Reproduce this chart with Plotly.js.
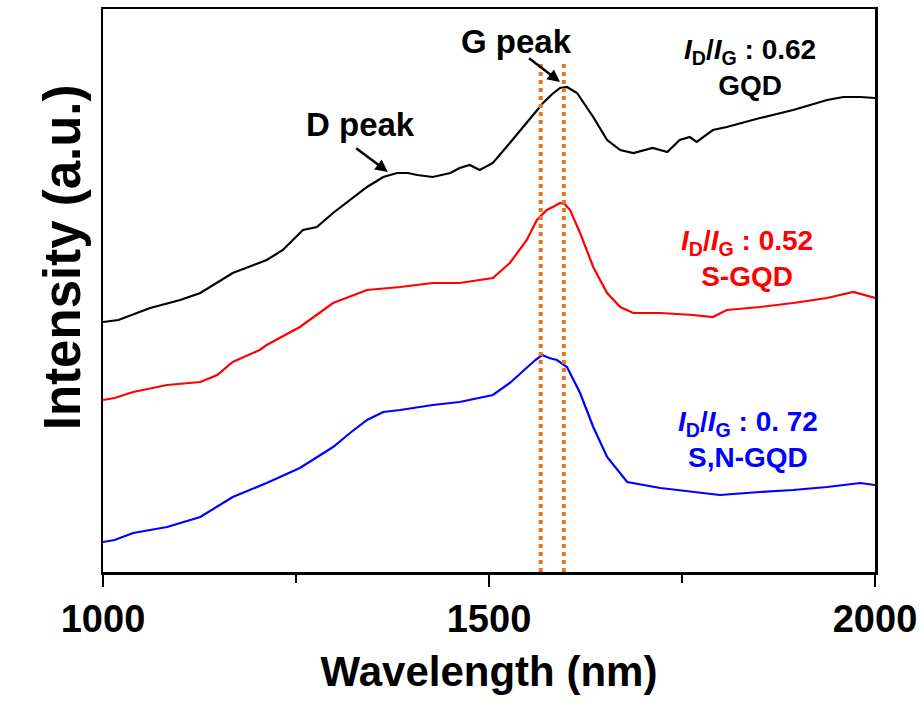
<!DOCTYPE html>
<html>
<head>
<meta charset="utf-8">
<script src="https://cdn.plot.ly/plotly-3.0.1.min.js"></script>
<style>html,body{margin:0;padding:0;background:#fff;}#chart{width:924px;height:708px;}</style>
</head>
<body>
<div id="chart"></div>
<script>
// ---- data (spectra, arbitrary intensity units, offset for display) ----
const wlGQD = [1000,1020,1061,1100,1126,1168,1212,1233,1259,1277,1298,1320,1342,1363,1381,1395,1407,1427,1450,1462,1475,1488,1505,1527,1549,1570,1582,1592,1601,1614,1635,1653,1670,1687,1712,1731,1747,1760,1769,1790,1808,1851,1894,1938,1959,1981,2000];
const intGQD = [250,252,264,272,279,299,312,322,342,345,359,372,385,395,399,399,397,395,399,404,407,402,409,429,449,469,478,484,485,479,455,432,422,419,424,420,432,435,430,442,445,454,462,472,475,475,474];

const wlSGQD = [1000,1015,1039,1083,1126,1148,1168,1203,1212,1255,1298,1342,1385,1427,1462,1505,1527,1549,1562,1575,1585,1592,1598,1605,1618,1635,1653,1670,1687,1722,1764,1790,1808,1851,1894,1938,1972,2000];
const intSGQD = [172,174,180,187,190,197,210,222,227,245,269,282,285,289,289,294,309,332,352,362,366,369,368,362,339,305,279,265,259,259,257,255,262,265,269,274,280,274];

const wlSNGQD = [1000,1015,1039,1083,1126,1168,1212,1255,1298,1320,1342,1363,1385,1427,1462,1505,1527,1549,1560,1569,1578,1588,1601,1618,1635,1653,1679,1722,1764,1799,1851,1894,1938,1981,2000];
const intSNGQD = [30,32,39,45,55,75,89,104,125,139,152,160,162,167,170,177,189,204,212,217,214,212,205,179,145,115,90,84,80,77,80,82,85,89,87];

const seriesNames = ["GQD", "S-GQD", "S,N-GQD"];
const ratioValues = ["0.62", "0.52", "0. 72"];
const gPeakPositions = [1567, 1597];
const guideSpan = [0, 512];
const xTickValues = [1000, 1500, 2000];
const xTickLabels = ["1000", "1500", "2000"];

// ---- styles ----
const colors = ["#000000", "#ff0000", "#0000ff"];
const FONT = "Liberation Sans, Arial, Helvetica, sans-serif";

const traces = [];
const xs = [wlGQD, wlSGQD, wlSNGQD];
const ys = [intGQD, intSGQD, intSNGQD];
for (let i = 0; i < 3; i++) {
  traces.push({
    x: xs[i], y: ys[i], type: "scatter", mode: "lines", name: seriesNames[i],
    line: {color: colors[i], width: 2.2},
    hoverinfo: "skip"
  });
}
gPeakPositions.forEach(p => {
  traces.push({
    x: [p, p], y: guideSpan, type: "scatter", mode: "lines",
    line: {color: "#e8761f", width: 4, dash: "4px,4px"},
    hoverinfo: "skip", showlegend: false
  });
});

const ratioText = v => "<i>I</i><sub>D</sub>/<i>I</i><sub>G</sub> : " + v;
const labelPos = [
  {x: 1838, y: 505},
  {x: 1834, y: 314},
  {x: 1836, y: 133}
];
const annotations = [];
for (let i = 0; i < 3; i++) {
  annotations.push({xref: "x", yref: "y", x: labelPos[i].x, y: labelPos[i].y,
    text: ratioText(ratioValues[i]) + "<br>" + seriesNames[i],
    showarrow: false, font: {family: FONT, size: 28, weight: "bold", color: colors[i]}});
}
// peak labels
annotations.push({xref: "x", yref: "y", x: 1334, y: 448, text: "D peak", showarrow: false,
  font: {family: FONT, size: 33, weight: "bold", color: "#000"}});
annotations.push({xref: "x", yref: "y", x: 1369, y: 400, axref: "x", ayref: "y", ax: 1326, ay: 425, text: "",
  showarrow: true, arrowhead: 2, arrowsize: 1, arrowwidth: 2.5, arrowcolor: "#000"});
annotations.push({xref: "x", yref: "y", x: 1536, y: 531, text: "G peak", showarrow: false,
  font: {family: FONT, size: 33, weight: "bold", color: "#000"}});
annotations.push({xref: "x", yref: "y", x: 1592, y: 490, axref: "x", ayref: "y", ax: 1550, ay: 515, text: "",
  showarrow: true, arrowhead: 2, arrowsize: 1, arrowwidth: 2.5, arrowcolor: "#000"});
// y axis title
annotations.push({xref: "paper", yref: "paper", x: -0.092, y: 0.56, text: "Intensity (a.u.)", textangle: -90,
  showarrow: false, font: {family: FONT, size: 51, weight: "bold", color: "#000"}});

const layout = {
  width: 924, height: 708,
  margin: {l: 103, r: 49, t: 9, b: 136},
  paper_bgcolor: "#fff", plot_bgcolor: "#fff",
  showlegend: false,
  xaxis: {
    range: [1000, 2000], showgrid: false, zeroline: false,
    showline: true, linecolor: "#000", linewidth: 2.5, mirror: true,
    ticks: "outside", ticklen: 12, tickwidth: 2.5, tickcolor: "#000",
    tickvals: xTickValues, ticktext: xTickLabels,
    minor: {ticks: "outside", ticklen: 8, tickwidth: 2.5, tickcolor: "#000", dtick: 250, tick0: 1000, showgrid: false},
    tickfont: {family: FONT, size: 38, weight: "bold", color: "#000"},
    title: {text: "Wavelength (nm)", font: {family: FONT, size: 42, weight: "bold", color: "#000"}, standoff: 18}
  },
  yaxis: {
    range: [0, 563], showgrid: false, zeroline: false,
    showline: true, linecolor: "#000", linewidth: 2.5, mirror: true,
    ticks: "", showticklabels: false
  },
  annotations: annotations
};

Plotly.newPlot("chart", traces, layout, {staticPlot: true, displayModeBar: false});
</script>
</body>
</html>
